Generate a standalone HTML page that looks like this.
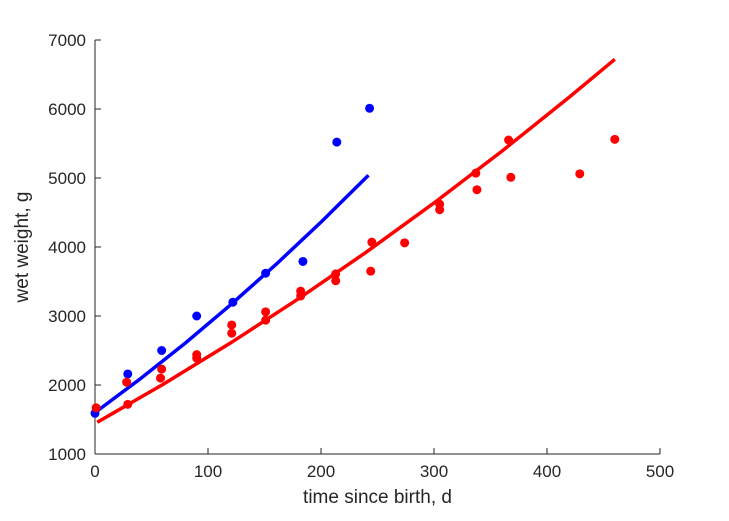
<!DOCTYPE html>
<html><head><meta charset="utf-8"><style>
body{margin:0;background:#fff;}
svg{display:block;font-family:"Liberation Sans",Arial,sans-serif;}
</style></head><body>
<svg id="chart" width="729" height="521"></svg>
<script>
const xTicks=[0,100,200,300,400,500];
const yTicks=[1000,2000,3000,4000,5000,6000,7000];
const blueT=[0,29,59,90,122,151,184,214,243];
const blueW=[1590,2160,2500,3000,3200,3620,3790,5520,6010];
const redT=[1,28,29,59,58,90,90,121,121,151,151,182,182,213,213,245,244,274,305,305,337,338,366,368,429,460];
const redW=[1670,2040,1720,2230,2100,2440,2390,2870,2750,3060,2940,3360,3290,3610,3510,4070,3650,4060,4620,4540,5070,4830,5550,5010,5060,5560];
const blueFitT=[0,40,80,120,160,200,242];
const blueFitW=[1600,2089,2609,3162,3745,4360,5040];
const redFitT=[2,60,120,180,240,300,360,420,460];
const redFitW=[1460,2007,2610,3249,3925,4638,5388,6175,6720];

const NS="http://www.w3.org/2000/svg";
const svg=document.getElementById('chart');
const X0=95,X1=660,Y0=454,Y1=40;
const sx=t=>X0+(t-0)/(500-0)*(X1-X0);
const sy=w=>Y0-(w-1000)/(7000-1000)*(Y0-Y1);
function mk(tag,attrs,parent){const e=document.createElementNS(NS,tag);for(const k in attrs)e.setAttribute(k,attrs[k]);(parent||svg).appendChild(e);return e;}

const axes=mk('g',{});


const xa=mk('line',{x1:X0,y1:Y0,x2:X1,y2:Y0,stroke:'#262626','stroke-width':1},axes);


const ya=mk('line',{x1:X0,y1:Y0,x2:X0,y2:Y1,stroke:'#262626','stroke-width':1},axes);


xTicks.forEach(t=>{
  const l=mk('line',{x1:sx(t),y1:Y0,x2:sx(t),y2:Y0-6,stroke:'#262626'},axes);
  
  
  const tx=mk('text',{x:sx(t),y:Y0+23,'text-anchor':'middle','font-size':17,fill:'#262626'},axes);
  tx.textContent=t;
  
  
});
yTicks.forEach(w=>{
  const l=mk('line',{x1:X0,y1:sy(w),x2:X0+6,y2:sy(w),stroke:'#262626'},axes);
  
  
  const tx=mk('text',{x:X0-9,y:sy(w)+6,'text-anchor':'end','font-size':17,fill:'#262626'},axes);
  tx.textContent=w;
  
  
});
const xt=mk('text',{x:(X0+X1)/2,y:Y0+49,'text-anchor':'middle','font-size':19,fill:'#262626'});
xt.textContent='time since birth, d';


const yt=mk('text',{x:0,y:0,'text-anchor':'middle','font-size':19,fill:'#262626',transform:`translate(28,${(Y0+Y1)/2}) rotate(-90)`});
yt.textContent='wet weight, g';



function line(T,W,color,name){
  const p=mk('polyline',{points:T.map((t,i)=>sx(t)+','+sy(W[i])).join(' '),fill:'none',stroke:color,'stroke-width':3.5});
  
  
}
function pts(T,W,color,name){
  const g=mk('g',{});
  
  
  T.forEach((t,i)=>{
    const c=mk('circle',{cx:sx(t),cy:sy(W[i]),r:4.5,fill:color},g);
    
    
  });
}
line(blueFitT,blueFitW,'#0000ff','blue-fit-line');
line(redFitT,redFitW,'#ff0000','red-fit-line');
pts(blueT,blueW,'#0000ff','blue-points');
pts(redT,redW,'#ff0000','red-points');
</script>
</body></html>
